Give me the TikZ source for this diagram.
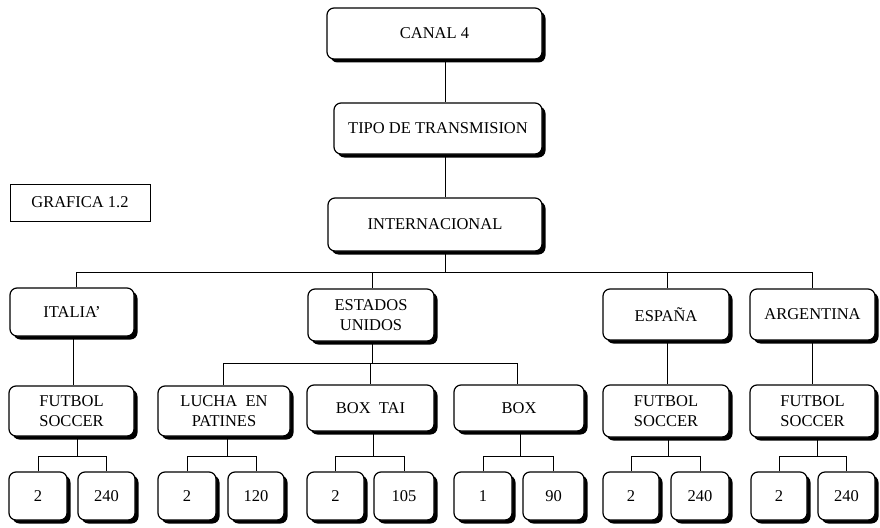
\documentclass[tikz,border=0pt]{standalone}
\usepackage{fontspec}
\setmainfont{Liberation Serif}
\usetikzlibrary{shadows}
\tikzset{
  bx/.style 2 args={draw, rounded corners=7pt, fill=white, line width=1.2pt, inner sep=0pt,
    minimum width=#1, minimum height=#2, align=center,
    font=\fontsize{16.5}{20}\selectfont,
    drop shadow={shadow xshift=3.5pt, shadow yshift=-3.5pt, fill=black, opacity=1}},
  plainbox/.style={draw, line width=0.9pt, inner sep=0pt, minimum width=140, minimum height=37,
    font=\fontsize{16.5}{20}\selectfont},
  wire/.style={line width=1pt}
}
\begin{document}
\begin{tikzpicture}[x=1pt,y=-1pt]
\useasboundingbox[fill=white] (0,0) rectangle (880,527);
% level 0-2
\node[bx={215}{51}] (canal) at (434.5,33.5) {CANAL 4};
\node[bx={208}{51}] (tipo) at (438,128.5) {TIPO DE TRANSMISION};
\node[bx={214}{53}] (inter) at (435,224.5) {INTERNACIONAL};
\node[plainbox] (graf) at (80,202.5) {GRAFICA 1.2};
% countries
\node[bx={124}{48}] (italia) at (72,312) {ITALIA'};
\node[bx={126}{52}] (estados) at (371,315) {ESTADOS\\UNIDOS};
\node[bx={126}{51}] (espana) at (666,314.5) {ESPAÑA};
\node[bx={125}{51}] (argen) at (812.5,314.5) {ARGENTINA};
% sports
\node[bx={125}{50}] (fut1) at (71.5,411) {FUTBOL\\SOCCER};
\node[bx={132}{50}] (lucha) at (224,411) {LUCHA\ \ EN\\PATINES};
\node[bx={127}{46}] (boxtai) at (370.5,408) {BOX\ \ TAI};
\node[bx={130}{46}] (box) at (519,408) {BOX};
\node[bx={126}{52}] (fut2) at (666,411) {FUTBOL\\SOCCER};
\node[bx={125}{52}] (fut3) at (812.5,411) {FUTBOL\\SOCCER};
% numbers
\node[bx={58}{48}] (i2) at (38,496) {2};
\node[bx={57}{48}] (i240) at (106.5,496) {240};
\node[bx={58}{48}] (l2) at (187,496) {2};
\node[bx={56}{48}] (l120) at (256,496) {120};
\node[bx={57}{48}] (t2) at (335.5,496) {2};
\node[bx={60}{48}] (t105) at (404,496) {105};
\node[bx={58}{48}] (b1) at (483,496) {1};
\node[bx={61}{48}] (b90) at (553.5,496) {90};
\node[bx={56}{48}] (e2) at (631,496) {2};
\node[bx={58}{48}] (e240) at (700,496) {240};
\node[bx={56}{48}] (a2) at (779,496) {2};
\node[bx={57}{48}] (a240) at (846.5,496) {240};
% helper coordinates
\coordinate (xa) at (445,0);
\coordinate (h1) at (0,272);
\coordinate (h2) at (0,363);
\coordinate (h4) at (0,456);
\coordinate (xi) at (76,0);
\coordinate (xe) at (372,0);
\coordinate (xs) at (667,0);
\coordinate (xg) at (812,0);
\coordinate (xi2) at (73,0);
\coordinate (xl) at (223,0);
\coordinate (xt) at (370,0);
\coordinate (xb) at (517,0);
\coordinate (pi) at (77,0);
\coordinate (pl) at (227,0);
\coordinate (pt) at (373,0);
\coordinate (pb) at (520,0);
\coordinate (ps) at (668,0);
\coordinate (pg) at (817,0);
% connectors
\draw[wire] (canal.south -| xa) -- (tipo.north -| xa);
\draw[wire] (tipo.south -| xa) -- (inter.north -| xa);
\draw[wire] (inter.south -| xa) -- (h1 -| xa);
\draw[wire] (italia.north -| xi) -- (h1 -| xi) -- (h1 -| xg) -- (argen.north -| xg);
\draw[wire] (h1 -| xe) -- (estados.north -| xe);
\draw[wire] (h1 -| xs) -- (espana.north -| xs);
\draw[wire] (italia.south -| xi2) -- (fut1.north -| xi2);
\draw[wire] (estados.south -| xe) -- (h2 -| xe);
\draw[wire] (lucha.north -| xl) -- (h2 -| xl) -- (h2 -| xb) -- (box.north -| xb);
\draw[wire] (h2 -| xt) -- (boxtai.north -| xt);
\draw[wire] (espana.south -| xs) -- (fut2.north -| xs);
\draw[wire] (argen.south -| xg) -- (fut3.north -| xg);
% brackets
\draw[wire] (fut1.south -| pi) -- (h4 -| pi);
\draw[wire] (i2.north) -- (i2.north |- h4) -- (i240.north |- h4) -- (i240.north);
\draw[wire] (lucha.south -| pl) -- (h4 -| pl);
\draw[wire] (l2.north) -- (l2.north |- h4) -- (l120.north |- h4) -- (l120.north);
\draw[wire] (boxtai.south -| pt) -- (h4 -| pt);
\draw[wire] (t2.north) -- (t2.north |- h4) -- (t105.north |- h4) -- (t105.north);
\draw[wire] (box.south -| pb) -- (h4 -| pb);
\draw[wire] (b1.north) -- (b1.north |- h4) -- (b90.north |- h4) -- (b90.north);
\draw[wire] (fut2.south -| ps) -- (h4 -| ps);
\draw[wire] (e2.north) -- (e2.north |- h4) -- (e240.north |- h4) -- (e240.north);
\draw[wire] (fut3.south -| pg) -- (h4 -| pg);
\draw[wire] (a2.north) -- (a2.north |- h4) -- (a240.north |- h4) -- (a240.north);
\end{tikzpicture}
\end{document}
